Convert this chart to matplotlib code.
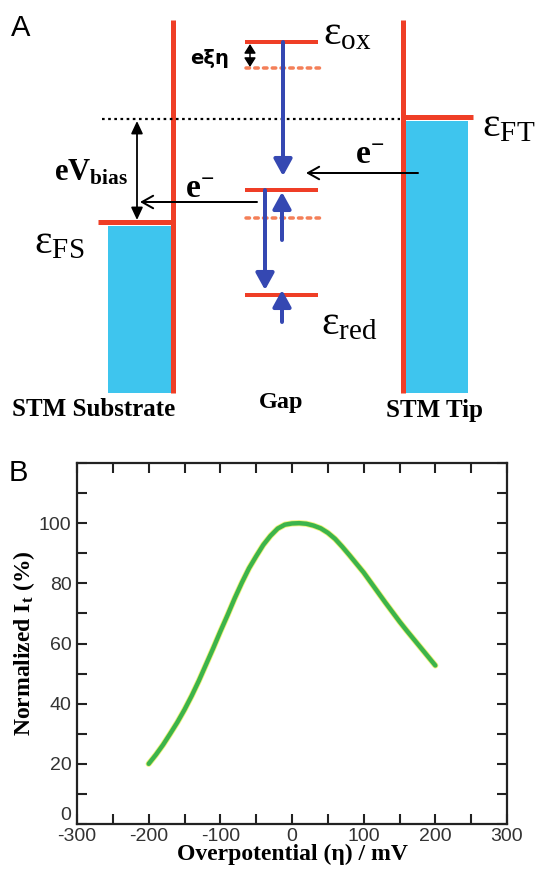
import numpy as np
import matplotlib
matplotlib.use('Agg')
import matplotlib.pyplot as plt
from matplotlib.patches import Rectangle
from matplotlib.ticker import MultipleLocator

plt.rcParams['mathtext.fontset'] = 'custom'
plt.rcParams['mathtext.rm'] = 'Liberation Serif'
plt.rcParams['mathtext.it'] = 'Liberation Serif:italic'
plt.rcParams['mathtext.bf'] = 'Liberation Serif:bold'
plt.rcParams['axes.unicode_minus'] = False

# panel B : normalized tunnelling current vs overpotential
overpotential = [-200, -190, -180, -170, -160, -150, -140, -130, -120, -110, -100,
                 -90, -80, -70, -60, -50, -40, -30, -20, -10, 0,
                 10, 20, 30, 40, 50, 60, 70, 80, 90, 100,
                 110, 120, 130, 140, 150, 160, 170, 180, 190, 200]
current_pct = [20, 23, 26.3, 30, 33.8, 38, 42.6, 47.6, 53, 58.4, 64,
               69.4, 75, 80.2, 85, 89, 92.8, 95.8, 98.2, 99.5, 99.9,
               100, 99.8, 99.2, 98.3, 96.8, 94.8, 92.2, 89.4, 86.5, 83.6,
               80.3, 77, 73.7, 70.5, 67.3, 64.3, 61.4, 58.5, 55.6, 52.7]

# panel A : energy-level sketch, positions in pixel units of the figure
level_ox, level_ox_dot = 42, 68
level_mid, level_mid_dot = 190, 218
level_red = 295
fermi_sub, fermi_tip = 222, 117

RED = '#ef3e26'
BLUE = '#3548b2'
CYAN = '#3ec5ee'
DOTRED = '#f47f58'
PX = 0.72  # points per pixel at dpi 100

fig = plt.figure(figsize=(5.38, 8.71), dpi=100)

# ---------------- panel A ----------------
ax = fig.add_axes([0, 0, 1, 1])
ax.set_xlim(0, 538)
ax.set_ylim(871, 0)
ax.axis('off')

# substrate
ax.add_patch(Rectangle((108, fermi_sub + 4), 64, 393 - fermi_sub - 4, color=CYAN, lw=0))
ax.plot([173, 173], [20, 393], color=RED, lw=5 * PX, solid_capstyle='butt')
ax.plot([98, 173], [fermi_sub, fermi_sub], color=RED, lw=5 * PX, solid_capstyle='butt')
# tip
ax.add_patch(Rectangle((405, fermi_tip + 4), 63, 393 - fermi_tip - 4, color=CYAN, lw=0))
ax.plot([403, 403], [20, 393], color=RED, lw=5 * PX, solid_capstyle='butt')
ax.plot([403, 473], [fermi_tip, fermi_tip], color=RED, lw=5 * PX, solid_capstyle='butt')

# bias level
ax.plot([102, 400], [119, 119], color='black', lw=2.2 * PX, ls=(0, (1.2, 1.6)))

# molecular levels
for y in [level_ox, level_mid, level_red]:
    ax.plot([245, 318], [y, y], color=RED, lw=4 * PX, solid_capstyle='butt')
for y in [level_ox_dot, level_mid_dot]:
    ax.plot([246, 320], [y, y], color=DOTRED, lw=3.5 * PX, ls=(0, (1, 1.5)), dash_capstyle='round')

blue_kw = dict(arrowstyle='-|>,head_length=1.0,head_width=0.55', color=BLUE, lw=4 * PX,
               shrinkA=0, shrinkB=0)
ax.annotate('', xy=(283, 176), xytext=(283, level_ox), arrowprops=blue_kw)
ax.annotate('', xy=(265, 290), xytext=(265, level_mid), arrowprops=blue_kw)
ax.annotate('', xy=(282, 192), xytext=(282, 240), arrowprops=blue_kw)
ax.annotate('', xy=(282, 290), xytext=(282, 322), arrowprops=blue_kw)

# electron transfer arrows
black_kw = dict(arrowstyle='->,head_length=0.8,head_width=0.45', color='black', lw=2 * PX,
                shrinkA=0, shrinkB=0)
ax.annotate('', xy=(140, 202), xytext=(257, 202), arrowprops=black_kw)
ax.annotate('', xy=(306, 173), xytext=(418, 173), arrowprops=black_kw)
# eV_bias double arrow
ax.annotate('', xy=(137, fermi_sub - 2), xytext=(137, 121),
            arrowprops=dict(arrowstyle='<|-|>,head_length=0.75,head_width=0.35', color='black',
                            lw=1.8 * PX, shrinkA=0, shrinkB=0))
# e xi eta small double arrow
ax.annotate('', xy=(250, level_ox_dot - 1), xytext=(250, level_ox + 2),
            arrowprops=dict(arrowstyle='<|-|>,head_length=0.55,head_width=0.35', color='black',
                            lw=1.5 * PX, shrinkA=0, shrinkB=0))

ax.text(11, 28, 'A', fontsize=21, family='Liberation Sans', va='center', ha='left')
ax.text(190, 58, 'eξη', fontsize=14, fontweight='bold', family='DejaVu Sans', va='center', ha='left')
ax.text(323, 32, r'$\mathrm{ε}_{\mathrm{ox}}$', fontsize=30, va='center', ha='left')
ax.text(482, 124, r'$\mathrm{ε}_{\mathrm{FT}}$', fontsize=30, va='center', ha='left')
ax.text(321, 322, r'$\mathrm{ε}_{\mathrm{red}}$', fontsize=30, va='center', ha='left')
ax.text(34, 241, r'$\mathrm{ε}_{\mathrm{FS}}$', fontsize=30, va='center', ha='left')
ax.text(54, 172, r'$\mathbf{eV}_{\mathbf{bias}}$', fontsize=22, va='center', ha='left')
ax.text(185, 188, r'$\mathbf{e}^{\mathbf{-}}$', fontsize=24, va='center', ha='left')
ax.text(355, 155, r'$\mathbf{e}^{\mathbf{-}}$', fontsize=24, va='center', ha='left')
ax.text(94, 409, 'STM Substrate', fontsize=18, fontweight='bold', family='Liberation Serif',
        va='center', ha='center')
ax.text(281, 402, 'Gap', fontsize=17.5, fontweight='bold', family='Liberation Serif',
        va='center', ha='center')
ax.text(434, 410, 'STM Tip', fontsize=18, fontweight='bold', family='Liberation Serif',
        va='center', ha='center')
ax.text(9, 473, 'B', fontsize=21, family='Liberation Sans', va='center', ha='left')

# ---------------- panel B ----------------
bx = fig.add_axes([77 / 538, 47 / 871, 430 / 538, 361 / 871])
bx.patch.set_alpha(0)
bx.plot(overpotential, current_pct, color='#f1f27a', lw=4.4, solid_capstyle='round')
bx.plot(overpotential, current_pct, color='#3cb44b', lw=3.2, solid_capstyle='round')
bx.set_xlim(-300, 300)
bx.set_ylim(0, 120)
bx.xaxis.set_major_locator(MultipleLocator(100))
bx.xaxis.set_minor_locator(MultipleLocator(50))
bx.yaxis.set_minor_locator(MultipleLocator(10))
bx.set_yticks([0, 20, 40, 60, 80, 100])
bx.tick_params(which='both', direction='in', top=True, right=True, length=7, width=1.5,
               color='#222222')
bx.tick_params(labelsize=14, labelcolor='#333333')
bx.tick_params(axis='x', pad=3)
bx.tick_params(axis='y', pad=4)
for lab in bx.get_xticklabels() + bx.get_yticklabels():
    lab.set_family('Liberation Sans')
# the "0" sits just above the x axis like in the original
bx.get_yticklabels()[0].set_va('bottom')
for s in bx.spines.values():
    s.set_linewidth(1.6)
    s.set_color('#222222')
bx.set_xlabel('Overpotential (η) / mV', fontsize=17, fontweight='bold', family='Liberation Serif',
              labelpad=-1)
bx.set_ylabel(r'Normalized I$_\mathbf{t}$ (%)', fontsize=17, fontweight='bold',
              family='Liberation Serif', labelpad=1)

fig.savefig('out.png', dpi=100)
